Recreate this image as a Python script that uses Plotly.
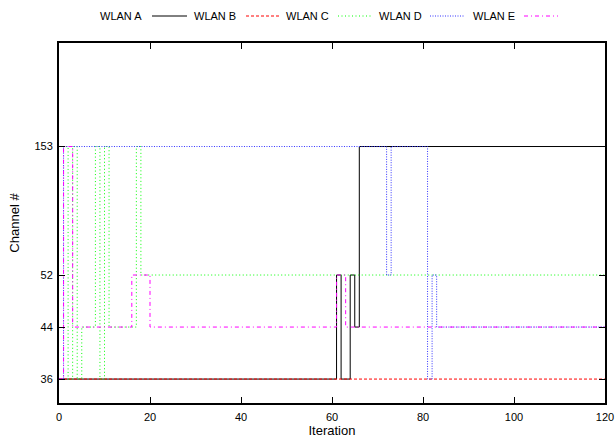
import plotly.graph_objects as go

# ---- data (step change points: iteration where a new channel starts) ----
series_names = ["WLAN A", "WLAN B", "WLAN C", "WLAN D", "WLAN E"]
iterations_A = [0, 61, 62, 64, 65, 66]
channels_A = [36, 52, 36, 52, 44, 153]
iterations_B = [0]
channels_B = [36]
iterations_C = [0, 2, 3, 4, 5, 8, 9, 10, 11, 17, 18]
channels_C = [153, 36, 153, 36, 44, 153, 36, 153, 44, 153, 52]
iterations_D = [0, 1, 72, 73, 81, 82, 83]
channels_D = [36, 153, 52, 153, 36, 52, 44]
iterations_E = [0, 1, 3, 16, 20, 61, 63]
channels_E = [36, 153, 44, 52, 44, 52, 44]
last_iteration = 120

channel_ticks = [36, 44, 52, 153]
# the channel axis is not linear: position of each channel on the axis
channel_positions = [0, 1, 2, 4.47]
x_ticks = [0, 20, 40, 60, 80, 100, 120]

pos = dict(zip(channel_ticks, channel_positions))

styles = [
    dict(color="#000000", dash="solid"),
    dict(color="#ff0000", dash="3px,2px"),
    dict(color="#00ff00", dash="1px,2.5px"),
    dict(color="#3333ff", dash="1px,1.5px"),
    dict(color="#ff00ff", dash="4px,3px,1px,3px"),
]

all_iters = [iterations_A, iterations_B, iterations_C, iterations_D, iterations_E]
all_chans = [channels_A, channels_B, channels_C, channels_D, channels_E]

fig = go.Figure()
for name, its, chs, st in zip(series_names, all_iters, all_chans, styles):
    xs = list(its) + [last_iteration]
    ys = [pos[c] for c in chs] + [pos[chs[-1]]]
    fig.add_trace(go.Scatter(
        x=xs, y=ys, mode="lines", name=name, line_shape="hv",
        line=dict(color=st["color"], dash=st["dash"], width=1),
        showlegend=False,
    ))

W, H = 615, 439
L, R, T, B = 59, 10, 43, 36
pw, ph = W - L - R, H - T - B

def px2paper_x(px):
    return (px - L) / pw

def px2paper_y(py):
    return (H - B - py) / ph

font = dict(family="Liberation Sans, Arial, sans-serif", size=11, color="black")

# manual gnuplot-style key: text followed by line sample
key_text_x = [98, 192, 284, 377, 471]
key_line_x = [(152, 187), (246, 280), (338, 372), (430, 465), (524, 558)]
key_y = 16
annotations = []
shapes = []
for name, tx, (x0, x1), st in zip(series_names, key_text_x, key_line_x, styles):
    annotations.append(dict(
        text=name, x=px2paper_x(tx), y=px2paper_y(key_y), xref="paper", yref="paper",
        xanchor="left", yanchor="middle", showarrow=False, font=font,
    ))
    shapes.append(dict(
        type="line", xref="paper", yref="paper",
        x0=px2paper_x(x0), x1=px2paper_x(x1), y0=px2paper_y(key_y), y1=px2paper_y(key_y),
        line=dict(color=st["color"], dash=st["dash"], width=1),
    ))

fig.update_layout(
    width=W, height=H,
    margin=dict(l=L, r=R, t=T, b=B),
    paper_bgcolor="white", plot_bgcolor="white",
    font=font,
    annotations=annotations,
    shapes=shapes,
    xaxis=dict(
        range=[0, 120], tickvals=x_ticks, ticks="inside", ticklen=6, tickwidth=1,
        tickcolor="black", showline=True, linewidth=2, linecolor="black", mirror="ticks",
        showgrid=False, zeroline=False, automargin=False, ticklabelstandoff=3,
        title=dict(text="Iteration", standoff=2, font=dict(size=13)),
        tickfont=dict(size=11),
    ),
    yaxis=dict(
        range=[-0.46, 6.46], tickvals=channel_positions, ticktext=[str(c) for c in channel_ticks],
        ticks="inside", ticklen=6, tickwidth=1, tickcolor="black",
        showline=True, linewidth=2, linecolor="black", mirror="ticks",
        showgrid=False, zeroline=False, automargin=False, ticklabelstandoff=2,
        title=dict(text="Channel #", standoff=12, font=dict(size=13)),
        tickfont=dict(size=11),
    ),
)

fig.write_html("out.html")
